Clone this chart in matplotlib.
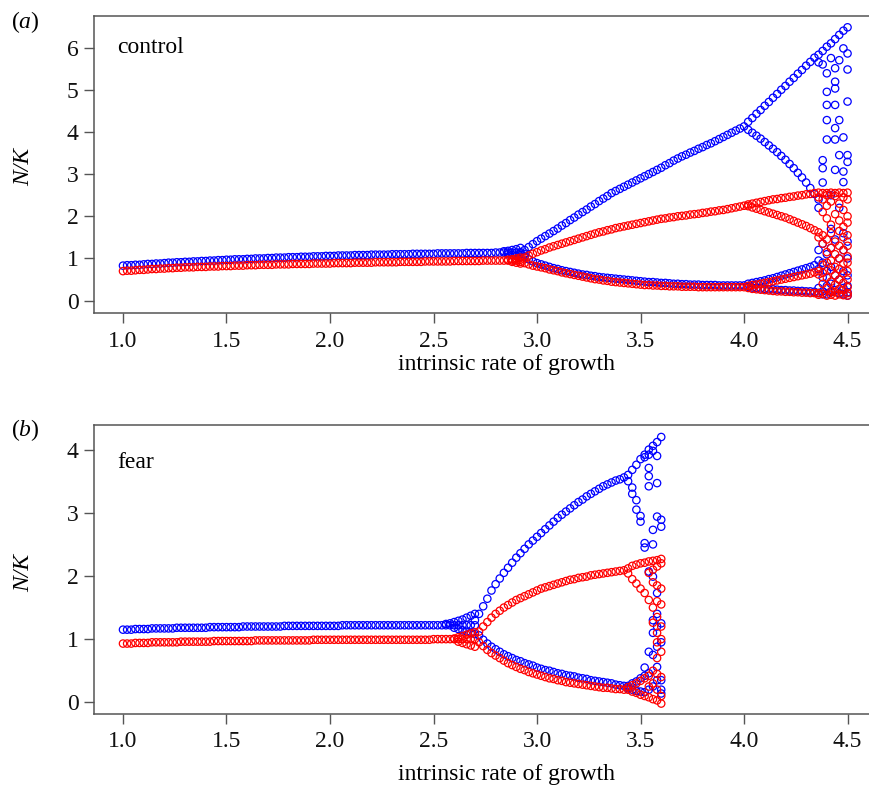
import numpy as np
import matplotlib.pyplot as plt

plt.rcParams['font.family'] = 'Liberation Serif'
plt.rcParams['mathtext.fontset'] = 'custom'
plt.rcParams['mathtext.rm'] = 'Liberation Serif'
plt.rcParams['mathtext.it'] = 'Liberation Serif:italic'

DR = 0.02  # spacing of growth rates

# ---------------- (a) control ----------------
# stable equilibrium, r = 1.00 .. 2.90
a_blue_eq = [0.83, 0.84, 0.84, 0.85, 0.85, 0.86, 0.87, 0.87, 0.88, 0.88,
             0.89, 0.90, 0.90, 0.91, 0.91, 0.92, 0.92, 0.93, 0.93, 0.94,
             0.94, 0.95, 0.95, 0.96, 0.96, 0.97, 0.97, 0.98, 0.98, 0.98,
             0.99, 0.99, 1.00, 1.00, 1.00, 1.01, 1.01, 1.02, 1.02, 1.02,
             1.03, 1.03, 1.03, 1.04, 1.04, 1.04, 1.05, 1.05, 1.05, 1.06,
             1.06, 1.06, 1.07, 1.07, 1.07, 1.07, 1.08, 1.08, 1.08, 1.08,
             1.09, 1.09, 1.09, 1.09, 1.09, 1.10, 1.10, 1.10, 1.10, 1.10,
             1.11, 1.11, 1.11, 1.11, 1.11, 1.11, 1.12, 1.12, 1.12, 1.12,
             1.12, 1.12, 1.12, 1.13, 1.13, 1.13, 1.13, 1.13, 1.13, 1.13,
             1.14, 1.14, 1.14, 1.14, 1.14, 1.14]
a_red_eq = [0.70, 0.71, 0.71, 0.72, 0.73, 0.73, 0.74, 0.75, 0.75, 0.76,
            0.76, 0.77, 0.77, 0.78, 0.78, 0.79, 0.79, 0.79, 0.80, 0.80,
            0.80, 0.81, 0.81, 0.81, 0.82, 0.82, 0.82, 0.83, 0.83, 0.83,
            0.84, 0.84, 0.84, 0.85, 0.85, 0.85, 0.85, 0.86, 0.86, 0.86,
            0.86, 0.87, 0.87, 0.87, 0.87, 0.87, 0.88, 0.88, 0.88, 0.88,
            0.88, 0.89, 0.89, 0.89, 0.89, 0.89, 0.90, 0.90, 0.90, 0.90,
            0.90, 0.91, 0.91, 0.91, 0.91, 0.91, 0.91, 0.92, 0.92, 0.92,
            0.92, 0.92, 0.92, 0.93, 0.93, 0.93, 0.93, 0.93, 0.93, 0.93,
            0.94, 0.94, 0.94, 0.94, 0.94, 0.94, 0.94, 0.95, 0.95, 0.95,
            0.95, 0.95, 0.95, 0.95, 0.95, 0.95]

# slow convergence near the first split
a_blue_fan_r = [2.84, 2.86, 2.86, 2.88, 2.88, 2.90, 2.90, 2.92, 2.92, 2.94]
a_blue_fan_n = [1.17, 1.18, 1.10, 1.20, 1.08, 1.22, 1.06, 1.25, 1.04, 1.10]
a_red_fan_r = [2.86, 2.88, 2.88, 2.90, 2.90, 2.92, 2.92]
a_red_fan_n = [0.97, 0.98, 0.92, 1.00, 0.90, 1.02, 0.88]

# 2-cycle, r = 2.92 .. 4.00
a_blue_hi = [1.15, 1.20, 1.27, 1.34, 1.41, 1.47, 1.53, 1.59, 1.65, 1.71,
             1.78, 1.84, 1.91, 1.97, 2.04, 2.10, 2.16, 2.23, 2.29, 2.36,
             2.42, 2.48, 2.55, 2.60, 2.65, 2.70, 2.75, 2.80, 2.85, 2.90,
             2.95, 3.00, 3.05, 3.10, 3.15, 3.21, 3.26, 3.32, 3.37, 3.42,
             3.46, 3.51, 3.55, 3.60, 3.64, 3.69, 3.73, 3.78, 3.83, 3.88,
             3.93, 3.98, 4.03, 4.08, 4.13]
a_blue_lo = [1.12, 1.05, 0.98, 0.93, 0.89, 0.86, 0.83, 0.80, 0.77, 0.75,
             0.72, 0.70, 0.68, 0.66, 0.64, 0.62, 0.61, 0.59, 0.58, 0.56,
             0.55, 0.54, 0.53, 0.52, 0.51, 0.50, 0.49, 0.48, 0.47, 0.46,
             0.45, 0.44, 0.44, 0.43, 0.42, 0.42, 0.41, 0.40, 0.40, 0.39,
             0.39, 0.38, 0.38, 0.38, 0.37, 0.37, 0.37, 0.37, 0.36, 0.36,
             0.36, 0.36, 0.36, 0.36, 0.36]
a_red_hi = [0.97, 1.02, 1.07, 1.11, 1.15, 1.19, 1.22, 1.26, 1.29, 1.32,
            1.35, 1.38, 1.41, 1.44, 1.47, 1.50, 1.53, 1.56, 1.59, 1.62,
            1.64, 1.67, 1.69, 1.72, 1.74, 1.76, 1.78, 1.80, 1.82, 1.84,
            1.86, 1.88, 1.90, 1.92, 1.94, 1.95, 1.97, 1.98, 2.00, 2.01,
            2.02, 2.04, 2.05, 2.06, 2.08, 2.09, 2.11, 2.12, 2.14, 2.15,
            2.17, 2.19, 2.21, 2.23, 2.25]
a_red_lo = [0.92, 0.89, 0.86, 0.83, 0.81, 0.79, 0.77, 0.74, 0.72, 0.70,
            0.67, 0.65, 0.63, 0.61, 0.59, 0.57, 0.55, 0.53, 0.51, 0.50,
            0.48, 0.47, 0.45, 0.44, 0.43, 0.42, 0.41, 0.40, 0.39, 0.38,
            0.37, 0.37, 0.36, 0.36, 0.35, 0.35, 0.34, 0.34, 0.34, 0.33,
            0.33, 0.33, 0.33, 0.32, 0.32, 0.32, 0.32, 0.32, 0.32, 0.32,
            0.32, 0.32, 0.32, 0.32, 0.32]

# 4-cycle, r = 4.02 .. 4.34
a_blue_4 = [[4.24, 4.33, 4.43, 4.52, 4.62, 4.71, 4.81, 4.90, 5.00, 5.09,
             5.19, 5.28, 5.38, 5.47, 5.57, 5.66, 5.76],
            [4.05, 3.98, 3.91, 3.84, 3.76, 3.68, 3.60, 3.52, 3.43, 3.34,
             3.24, 3.14, 3.03, 2.92, 2.80, 2.67, 2.53],
            [0.40, 0.42, 0.44, 0.46, 0.48, 0.51, 0.53, 0.56, 0.59, 0.62,
             0.65, 0.68, 0.71, 0.74, 0.77, 0.80, 0.84],
            [0.33, 0.31, 0.30, 0.29, 0.28, 0.27, 0.27, 0.26, 0.25, 0.25,
             0.24, 0.24, 0.23, 0.23, 0.22, 0.22, 0.21]]
a_red_4 = [[2.28, 2.30, 2.32, 2.34, 2.36, 2.38, 2.40, 2.41, 2.43, 2.44,
            2.46, 2.47, 2.49, 2.50, 2.52, 2.53, 2.55],
           [2.24, 2.21, 2.18, 2.15, 2.12, 2.09, 2.06, 2.03, 2.00, 1.97,
            1.93, 1.89, 1.85, 1.81, 1.77, 1.72, 1.67],
           [0.35, 0.37, 0.38, 0.40, 0.42, 0.44, 0.46, 0.48, 0.50, 0.52,
            0.54, 0.56, 0.58, 0.60, 0.62, 0.64, 0.67],
           [0.30, 0.28, 0.27, 0.26, 0.25, 0.24, 0.23, 0.22, 0.22, 0.21,
            0.21, 0.20, 0.20, 0.19, 0.19, 0.18, 0.18]]

# irregular dynamics, r = 4.36 .. 4.50
a_blue_chaos = [[5.83, 5.65, 2.40, 2.20, 1.20, 0.95, 0.75, 0.30, 0.18],
                [5.92, 5.60, 3.33, 3.14, 2.80, 1.35, 0.90, 0.55, 0.22, 0.15],
                [6.02, 5.39, 4.95, 4.64, 4.28, 3.82, 1.10, 0.70, 0.35, 0.15],
                [6.10, 5.75, 2.50, 1.70, 1.25, 0.80, 0.40, 0.20],
                [6.20, 5.51, 5.19, 5.03, 4.64, 4.09, 3.82, 3.10, 1.45, 0.60, 0.25],
                [6.30, 5.70, 4.28, 3.45, 2.20, 1.00, 0.50, 0.18],
                [6.40, 5.98, 3.87, 3.06, 2.81, 1.60, 1.20, 0.70, 0.30, 0.15],
                [6.48, 5.86, 5.48, 4.72, 3.45, 3.29, 1.40, 1.00, 0.60, 0.35, 0.20, 0.12]]
a_red_chaos = [[2.56, 2.45, 1.62, 1.50, 0.70, 0.62, 0.18, 0.14],
               [2.55, 2.40, 2.10, 1.55, 1.35, 0.85, 0.66, 0.40, 0.16],
               [2.55, 2.50, 2.25, 1.95, 1.45, 1.15, 0.90, 0.55, 0.30, 0.12],
               [2.56, 2.35, 1.80, 1.60, 1.25, 0.95, 0.72, 0.45, 0.22, 0.14],
               [2.55, 2.48, 2.05, 1.40, 1.10, 0.80, 0.60, 0.38, 0.20, 0.12],
               [2.56, 2.30, 1.90, 1.65, 1.30, 1.00, 0.75, 0.50, 0.28, 0.15],
               [2.55, 2.45, 2.15, 1.75, 1.50, 1.20, 0.88, 0.65, 0.42, 0.25, 0.13],
               [2.56, 2.40, 2.00, 1.85, 1.55, 1.30, 1.05, 0.90, 0.70, 0.50, 0.32, 0.18, 0.12]]

# ---------------- (b) fear ----------------
# stable equilibrium, r = 1.00 .. 2.70
b_blue_eq = [1.15, 1.15, 1.15, 1.16, 1.16, 1.16, 1.16, 1.17, 1.17, 1.17,
             1.17, 1.17, 1.17, 1.18, 1.18, 1.18, 1.18, 1.18, 1.18, 1.18,
             1.18, 1.19, 1.19, 1.19, 1.19, 1.19, 1.19, 1.19, 1.19, 1.20,
             1.20, 1.20, 1.20, 1.20, 1.20, 1.20, 1.20, 1.20, 1.20, 1.21,
             1.21, 1.21, 1.21, 1.21, 1.21, 1.21, 1.21, 1.21, 1.21, 1.21,
             1.21, 1.21, 1.21, 1.22, 1.22, 1.22, 1.22, 1.22, 1.22, 1.22,
             1.22, 1.22, 1.22, 1.22, 1.22, 1.22, 1.22, 1.22, 1.22, 1.22,
             1.22, 1.22, 1.22, 1.22, 1.22, 1.22, 1.22, 1.22, 1.22, 1.22,
             1.22, 1.22, 1.22, 1.22, 1.22, 1.22]
b_red_eq = [0.93, 0.93, 0.93, 0.94, 0.94, 0.94, 0.94, 0.95, 0.95, 0.95,
            0.95, 0.95, 0.95, 0.95, 0.96, 0.96, 0.96, 0.96, 0.96, 0.96,
            0.96, 0.96, 0.97, 0.97, 0.97, 0.97, 0.97, 0.97, 0.97, 0.97,
            0.97, 0.97, 0.98, 0.98, 0.98, 0.98, 0.98, 0.98, 0.98, 0.98,
            0.98, 0.98, 0.98, 0.98, 0.98, 0.98, 0.99, 0.99, 0.99, 0.99,
            0.99, 0.99, 0.99, 0.99, 0.99, 0.99, 0.99, 0.99, 0.99, 0.99,
            0.99, 0.99, 0.99, 0.99, 0.99, 0.99, 0.99, 0.99, 0.99, 0.99,
            0.99, 0.99, 0.99, 0.99, 0.99, 1.00, 1.00, 1.00, 1.00, 1.00,
            1.00, 1.00, 1.00, 1.00, 1.00, 1.00]

b_blue_fan_r = [2.56, 2.58, 2.60, 2.60, 2.62, 2.62, 2.64, 2.64, 2.66, 2.66,
                2.68, 2.68, 2.70, 2.70, 2.70]
b_blue_fan_n = [1.24, 1.25, 1.27, 1.18, 1.29, 1.16, 1.31, 1.14, 1.34, 1.12,
                1.37, 1.10, 1.40, 1.30, 1.08]
b_red_fan_r = [2.60, 2.62, 2.62, 2.64, 2.64, 2.66, 2.66, 2.68, 2.68, 2.70, 2.70]
b_red_fan_n = [1.01, 1.03, 0.96, 1.05, 0.94, 1.07, 0.92, 1.09, 0.90, 1.11, 0.88]

# 2-cycle, r = 2.72 .. 3.42
b_blue_hi = [1.40, 1.52, 1.64, 1.77, 1.87, 1.96, 2.05, 2.13, 2.21, 2.29,
             2.36, 2.43, 2.50, 2.56, 2.62, 2.68, 2.74, 2.80, 2.86, 2.92,
             2.97, 3.02, 3.07, 3.12, 3.17, 3.21, 3.26, 3.30, 3.34, 3.38,
             3.42, 3.45, 3.48, 3.51, 3.53, 3.56]
b_blue_lo = [1.06, 0.99, 0.93, 0.88, 0.84, 0.80, 0.76, 0.73, 0.70, 0.67,
             0.65, 0.62, 0.60, 0.58, 0.55, 0.53, 0.51, 0.50, 0.48, 0.46,
             0.45, 0.43, 0.42, 0.41, 0.39, 0.38, 0.37, 0.35, 0.34, 0.33,
             0.32, 0.31, 0.30, 0.28, 0.27, 0.26]
b_red_hi = [1.12, 1.20, 1.27, 1.34, 1.40, 1.45, 1.50, 1.54, 1.58, 1.62,
            1.65, 1.68, 1.71, 1.74, 1.77, 1.80, 1.82, 1.84, 1.86, 1.88,
            1.90, 1.92, 1.94, 1.95, 1.97, 1.98, 1.99, 2.01, 2.02, 2.03,
            2.04, 2.05, 2.06, 2.07, 2.08, 2.09]
b_red_lo = [0.95, 0.89, 0.83, 0.78, 0.74, 0.70, 0.66, 0.62, 0.59, 0.56,
            0.53, 0.51, 0.48, 0.46, 0.44, 0.42, 0.40, 0.38, 0.37, 0.35,
            0.34, 0.32, 0.31, 0.30, 0.29, 0.28, 0.27, 0.26, 0.25, 0.24,
            0.23, 0.23, 0.22, 0.21, 0.21, 0.20]

# irregular dynamics, r = 3.44 .. 3.60
b_blue_chaos = [[3.60, 3.50, 0.26, 0.22],
                [3.68, 3.40, 3.30, 0.30, 0.20],
                [3.76, 3.20, 3.05, 0.33, 0.18],
                [3.85, 2.95, 2.86, 0.38, 0.17],
                [3.92, 3.88, 2.52, 2.45, 0.55, 0.42, 0.16],
                [4.00, 3.92, 3.71, 3.58, 3.42, 2.07, 0.80, 0.46, 0.20],
                [4.06, 3.98, 2.73, 2.50, 1.99, 1.30, 1.10, 0.75, 0.25],
                [4.12, 3.90, 3.47, 2.94, 1.73, 1.40, 1.20, 0.88, 0.56, 0.35],
                [4.20, 2.89, 2.78, 1.25, 0.95, 0.35, 0.20, 0.14]]
b_red_chaos = [[2.12, 2.04, 0.24, 0.20],
               [2.16, 1.95, 0.27, 0.17],
               [2.18, 1.88, 0.30, 0.15],
               [2.20, 1.80, 0.34, 0.12],
               [2.21, 1.73, 0.38, 0.10],
               [2.23, 2.05, 1.62, 0.42, 0.25, 0.08],
               [2.24, 2.10, 1.90, 1.50, 1.26, 0.50, 0.30, 0.05],
               [2.25, 2.15, 1.85, 1.60, 1.35, 1.10, 0.95, 0.70, 0.45, 0.20, 0.03],
               [2.27, 2.20, 1.80, 1.55, 1.20, 1.00, 0.80, 0.40, 0.10, -0.02]]

x_ticks = [1.0, 1.5, 2.0, 2.5, 3.0, 3.5, 4.0, 4.5]

BLUE = '#0000ff'
RED = '#ff0000'
MS = 28      # marker area, pt^2
MLW = 0.9    # circle edge width
GREY = '#555555'
FS = 17


def circles(ax, r, n, color):
    ax.scatter(r, n, s=MS, marker='o', facecolors='none',
               edgecolors=color, linewidths=MLW, zorder=3)


def branch(ax, r0, vals, color):
    r = r0 + DR * np.arange(len(vals))
    circles(ax, r, vals, color)


def cloud(ax, r0, cols, color):
    for i, col in enumerate(cols):
        circles(ax, np.full(len(col), r0 + DR * i), col, color)


def style(ax, ylim, yticks):
    ax.set_xlim(0.86, 4.652)
    ax.set_ylim(*ylim)
    ax.set_xticks(x_ticks)
    ax.set_xticklabels(['%.1f' % t for t in x_ticks])
    ax.set_yticks(yticks)
    ax.spines['right'].set_visible(False)
    for s in ['left', 'bottom', 'top']:
        ax.spines[s].set_color(GREY)
        ax.spines[s].set_linewidth(1.1)
    ax.tick_params(axis='both', colors=GREY, labelcolor='#111111',
                   labelsize=FS, length=7.5, width=1.0)
    ax.tick_params(axis='x', pad=5)
    ax.tick_params(axis='y', pad=3.5)


W, H = 869, 785
fig = plt.figure(figsize=(W / 100, H / 100), dpi=100)

# panel (a)
ax1 = fig.add_axes([94 / W, 1 - 313.3 / H, 785 / W, 297.8 / H])
style(ax1, (-0.30, 6.76), range(7))
branch(ax1, 1.00, a_blue_eq, BLUE)
circles(ax1, a_blue_fan_r, a_blue_fan_n, BLUE)
branch(ax1, 2.92, a_blue_hi, BLUE)
branch(ax1, 2.92, a_blue_lo, BLUE)
for b in a_blue_4:
    branch(ax1, 4.02, b, BLUE)
cloud(ax1, 4.36, a_blue_chaos, BLUE)
branch(ax1, 1.00, a_red_eq, RED)
circles(ax1, a_red_fan_r, a_red_fan_n, RED)
branch(ax1, 2.92, a_red_hi, RED)
branch(ax1, 2.92, a_red_lo, RED)
for b in a_red_4:
    branch(ax1, 4.02, b, RED)
cloud(ax1, 4.36, a_red_chaos, RED)
ax1.text(0.97, 5.87, 'control', fontsize=FS, va='baseline', ha='left')

# panel (b)
ax2 = fig.add_axes([94 / W, 1 - 714 / H, 785 / W, 289 / H])
style(ax2, (-0.185, 4.39), range(5))
branch(ax2, 1.00, b_blue_eq, BLUE)
circles(ax2, b_blue_fan_r, b_blue_fan_n, BLUE)
branch(ax2, 2.72, b_blue_hi, BLUE)
branch(ax2, 2.72, b_blue_lo, BLUE)
cloud(ax2, 3.44, b_blue_chaos, BLUE)
branch(ax2, 1.00, b_red_eq, RED)
circles(ax2, b_red_fan_r, b_red_fan_n, RED)
branch(ax2, 2.72, b_red_hi, RED)
branch(ax2, 2.72, b_red_lo, RED)
cloud(ax2, 3.44, b_red_chaos, RED)
ax2.text(0.973, 3.71, 'fear', fontsize=FS, va='baseline', ha='left')

# labels placed in pixel positions of the figure
for ylab_y, xlab_y, tag, tag_y in [(167, 370, '($a$)', 22), (573, 780, '($b$)', 430)]:
    fig.text(24 / W, 1 - ylab_y / H, 'N/K', rotation=90, fontsize=FS,
             fontstyle='italic', ha='center', va='center')
    fig.text(506 / W, 1 - xlab_y / H, 'intrinsic rate of growth',
             fontsize=FS, ha='center', va='baseline')
    fig.text(25 / W, 1 - tag_y / H, tag, fontsize=FS, ha='center', va='center')

fig.savefig('out.png', dpi=100)
